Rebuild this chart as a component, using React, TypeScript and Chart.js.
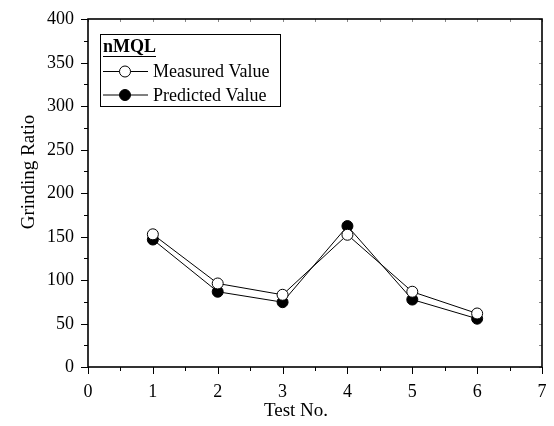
import React, { useEffect, useRef } from "react";
import { Chart, registerables } from "chart.js";

Chart.register(...registerables);

const testNo = [1, 2, 3, 4, 5, 6];
const measuredValue = [152.5, 96, 83, 152, 86.5, 61.5];
const predictedValue = [146.5, 86.5, 74.5, 162, 77.5, 55.5];
const legendTitle = "nMQL";
const seriesNames = ["Measured Value", "Predicted Value"];
const xTitle = "Test No.";
const yTitle = "Grinding Ratio";

const FONT = "'Liberation Serif', 'Times New Roman', serif";

// Frame, tick marks, tick labels, axis titles and the boxed legend
const decorPlugin = {
  id: "decor",
  afterDraw(chart: any) {
    const { ctx, chartArea: a, scales } = chart;
    const xs = scales.x;
    const ys = scales.y;
    ctx.save();
    ctx.strokeStyle = "#000";

    // ticks on y (outward left, inward right)
    for (let v = 0; v <= 400; v += 25) {
      const y = Math.round(ys.getPixelForValue(v)) + 0.5;
      const major = v % 50 === 0;
      ctx.lineWidth = 1;
      ctx.strokeStyle = "#000";
      ctx.beginPath();
      ctx.moveTo(a.left - (major ? 7 : 4), y);
      ctx.lineTo(a.left, y);
      ctx.stroke();
      ctx.strokeStyle = "#888";
      ctx.beginPath();
      ctx.moveTo(a.right, y);
      ctx.lineTo(a.right - 3, y);
      ctx.stroke();
    }
    // ticks on x (outward bottom, inward top)
    for (let v = 0; v <= 7; v += 0.5) {
      const x = Math.round(xs.getPixelForValue(v)) + 0.5;
      const major = v % 1 === 0;
      ctx.lineWidth = 1;
      ctx.strokeStyle = "#000";
      ctx.beginPath();
      ctx.moveTo(x, a.bottom);
      ctx.lineTo(x, a.bottom + (major ? 7 : 4));
      ctx.stroke();
      ctx.strokeStyle = "#888";
      ctx.beginPath();
      ctx.moveTo(x, a.top);
      ctx.lineTo(x, a.top + 3);
      ctx.stroke();
    }

    // frame
    ctx.strokeStyle = "#000";
    ctx.lineWidth = 1.6;
    ctx.strokeRect(a.left, a.top, a.right - a.left, a.bottom - a.top);

    // tick labels from the scales
    ctx.fillStyle = "#000";
    ctx.font = `18px ${FONT}`;
    ctx.textBaseline = "middle";
    ctx.textAlign = "right";
    ys.ticks.forEach((t: any) => {
      ctx.fillText(String(t.value), a.left - 14, ys.getPixelForValue(t.value) + 0.5);
    });
    ctx.textAlign = "center";
    xs.ticks.forEach((t: any) => {
      ctx.fillText(String(t.value), xs.getPixelForValue(t.value), a.bottom + 25);
    });

    // axis titles
    ctx.font = `19px ${FONT}`;
    ctx.fillText(xTitle, 296, 411);
    ctx.save();
    ctx.translate(29, 172);
    ctx.rotate(-Math.PI / 2);
    ctx.fillText(yTitle, 0, 0);
    ctx.restore();

    // legend box
    const bx = 100.5, by = 34.5, bw = 180, bh = 72;
    ctx.lineWidth = 1;
    ctx.strokeStyle = "#000";
    ctx.strokeRect(bx, by, bw, bh);
    ctx.textAlign = "left";
    ctx.font = `bold 18px ${FONT}`;
    ctx.fillText(legendTitle, 103, 47);
    const tw = ctx.measureText(legendTitle).width;
    ctx.lineWidth = 1.2;
    ctx.beginPath();
    ctx.moveTo(103, 56.5);
    ctx.lineTo(103 + tw, 56.5);
    ctx.stroke();

    ctx.font = `18px ${FONT}`;
    const rows = [71.5, 95];
    rows.forEach((ry, i) => {
      ctx.lineWidth = 1;
      ctx.strokeStyle = "#000";
      ctx.beginPath();
      ctx.moveTo(103, ry);
      ctx.lineTo(148, ry);
      ctx.stroke();
      ctx.beginPath();
      ctx.arc(125, ry, 5.5, 0, Math.PI * 2);
      ctx.fillStyle = i === 0 ? "#fff" : "#000";
      ctx.fill();
      ctx.stroke();
      ctx.fillStyle = "#000";
      ctx.fillText(seriesNames[i], 153, ry + 1);
    });
    ctx.restore();
  },
};

export default function App() {
  const ref = useRef<HTMLCanvasElement>(null);

  useEffect(() => {
    document.body.style.margin = "0";
    const chart = new Chart(ref.current!, {
      type: "line",
      data: {
        datasets: [
          {
            label: seriesNames[0],
            data: testNo.map((x, i) => ({ x, y: measuredValue[i] })),
            borderColor: "#000",
            borderWidth: 1,
            pointRadius: 5.5,
            pointBackgroundColor: "#fff",
            pointBorderColor: "#000",
            pointBorderWidth: 1,
          },
          {
            label: seriesNames[1],
            data: testNo.map((x, i) => ({ x, y: predictedValue[i] })),
            borderColor: "#000",
            borderWidth: 1,
            pointRadius: 5.5,
            pointBackgroundColor: "#000",
            pointBorderColor: "#000",
            pointBorderWidth: 1,
          },
        ],
      },
      options: {
        animation: false,
        responsive: false,
        events: [],
        layout: { padding: { top: 19, right: 12, left: 0, bottom: 0 } },
        plugins: { legend: { display: false }, tooltip: { enabled: false } },
        scales: {
          x: {
            type: "linear",
            min: 0,
            max: 7,
            grid: { display: false, drawTicks: false },
            border: { display: false },
            ticks: { stepSize: 1, display: false },
            afterFit(scale: any) {
              scale.height = 426 - 367;
            },
          },
          y: {
            min: 0,
            max: 400,
            grid: { display: false, drawTicks: false },
            border: { display: false },
            ticks: { stepSize: 50, display: false },
            afterFit(scale: any) {
              scale.width = 88;
            },
          },
        },
      },
      plugins: [decorPlugin],
    });
    return () => chart.destroy();
  }, []);

  return <canvas ref={ref} width={554} height={426} style={{ display: "block" }} />;
}
